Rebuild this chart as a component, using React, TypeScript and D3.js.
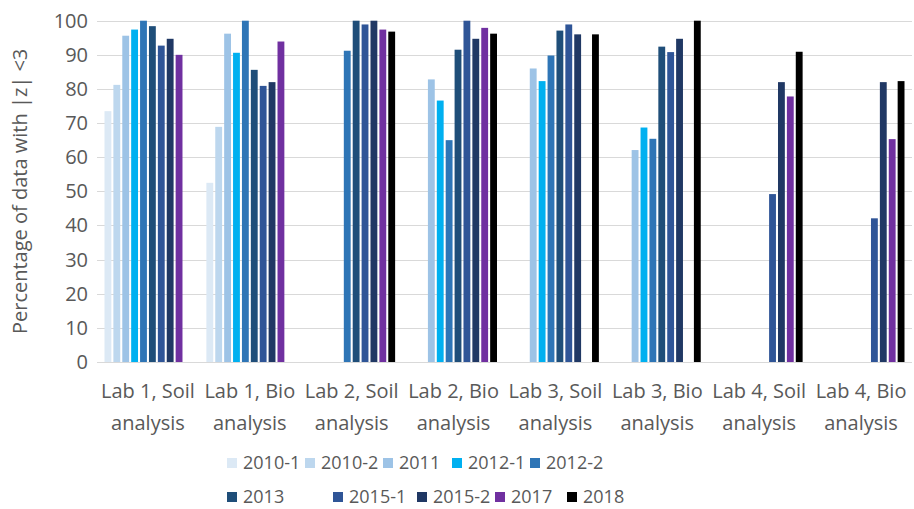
import React, { useEffect, useRef } from 'react';
import { select, scaleBand, scaleLinear, range } from 'd3';

const categories = [
  ['Lab 1, Soil', 'analysis'],
  ['Lab 1, Bio', 'analysis'],
  ['Lab 2, Soil', 'analysis'],
  ['Lab 2, Bio', 'analysis'],
  ['Lab 3, Soil', 'analysis'],
  ['Lab 3, Bio', 'analysis'],
  ['Lab 4, Soil', 'analysis'],
  ['Lab 4, Bio', 'analysis'],
];

const seriesNames = ['2010-1', '2010-2', '2011', '2012-1', '2012-2', '2013', '2015-1', '2015-2', '2017', '2018'];
const seriesColors = ['#dce9f5', '#bdd7ee', '#9dc3e6', '#00b0f0', '#2e75b6', '#1f4e79', '#2f5597', '#203864', '#7030a0', '#000000'];

// one value per category, null = no bar
const v2010_1 = [73.5, 52.5, null, null, null, null, null, null];
const v2010_2 = [81.2, 68.9, null, null, null, null, null, null];
const v2011 = [95.6, 96.2, null, 82.8, 86.0, 62.1, null, null];
const v2012_1 = [97.4, 90.6, null, 76.6, 82.3, 68.7, null, null];
const v2012_2 = [100, 100, 91.2, 65.0, 89.8, 65.4, null, null];
const v2013 = [98.4, 85.6, 100, 91.5, 97.1, 92.4, null, null];
const v2015_1 = [92.7, 80.9, 98.9, 100, 98.9, 90.8, 49.2, 42.1];
const v2015_2 = [94.7, 82.0, 100, 94.7, 96.0, 94.7, 82.0, 82.0];
const v2017 = [90.0, 93.9, 97.4, 97.9, null, null, 77.8, 65.3];
const v2018 = [null, null, 96.8, 96.2, 96.0, 100, 90.9, 82.3];

const seriesValues = [v2010_1, v2010_2, v2011, v2012_1, v2012_2, v2013, v2015_1, v2015_2, v2017, v2018];

const yTicks = range(0, 101, 10);
const yTitle = 'Percentage of data with |z| <3';

// legend layout: two rows, x of each swatch
const legendRows = [
  { y: 463, items: [0, 1, 2, 3, 4], xs: [227, 305, 383, 452, 530] },
  { y: 497, items: [5, 6, 7, 8, 9], xs: [227, 333, 417, 495, 567] },
];

const W = 914;
const H = 509;
const FONT = "'Open Sans', sans-serif";
const TEXT = '#595959';

function Chart() {
  const ref = useRef<SVGSVGElement>(null);

  useEffect(() => {
    const svg = select(ref.current);
    svg.selectAll('*').remove();

    const left = 97;
    const right = 912;
    const x0 = scaleBand<number>()
      .domain(categories.map((_, i) => i))
      .range([left, right]);
    const bw = x0.bandwidth();
    const x1 = scaleBand<number>()
      .domain(seriesNames.map((_, i) => i))
      .range([7.5, bw - 7.5])
      .paddingInner(0.23);
    const y = scaleLinear().domain([0, 100]).range([362, 20.7]);

    // gridlines
    svg.append('g')
      .selectAll('line')
      .data(yTicks)
      .enter()
      .append('line')
      .attr('x1', left)
      .attr('x2', right)
      .attr('y1', (d) => Math.round(y(d)) + 0.5)
      .attr('y2', (d) => Math.round(y(d)) + 0.5)
      .attr('stroke', '#d9d9d9')
      .attr('stroke-width', 1);

    // y tick labels
    svg.append('g')
      .selectAll('text')
      .data(yTicks)
      .enter()
      .append('text')
      .attr('x', left - 9)
      .attr('y', (d) => y(d))
      .attr('dy', '0.35em')
      .attr('text-anchor', 'end')
      .attr('font-family', FONT)
      .attr('font-size', 20)
      .attr('fill', TEXT)
      .text((d) => d);

    // y title
    svg.append('text')
      .attr('transform', `translate(27, ${y(50)}) rotate(-90)`)
      .attr('text-anchor', 'middle')
      .attr('font-family', FONT)
      .attr('font-size', 20)
      .attr('fill', TEXT)
      .text(yTitle);

    // bars
    seriesValues.forEach((vals, s) => {
      svg.append('g')
        .selectAll('rect')
        .data(vals.map((v, c) => ({ v, c })).filter((d) => d.v !== null))
        .enter()
        .append('rect')
        .attr('x', (d) => (x0(d.c) as number) + (x1(s) as number))
        .attr('y', (d) => y(d.v as number))
        .attr('width', x1.bandwidth())
        .attr('height', (d) => y(0) - y(d.v as number))
        .attr('fill', seriesColors[s]);
    });

    // category labels
    const cat = svg.append('g')
      .selectAll('text')
      .data(categories)
      .enter()
      .append('text')
      .attr('font-family', FONT)
      .attr('font-size', 20)
      .attr('fill', TEXT)
      .attr('text-anchor', 'middle');
    cat.append('tspan')
      .attr('x', (_, i) => (x0(i) as number) + bw / 2)
      .attr('y', 398)
      .text((d) => d[0]);
    cat.append('tspan')
      .attr('x', (_, i) => (x0(i) as number) + bw / 2)
      .attr('y', 430)
      .text((d) => d[1]);

    // legend
    legendRows.forEach((row) => {
      const g = svg.append('g');
      row.items.forEach((s, k) => {
        g.append('rect')
          .attr('x', row.xs[k])
          .attr('y', row.y - 5)
          .attr('width', 10)
          .attr('height', 10)
          .attr('fill', seriesColors[s]);
        g.append('text')
          .attr('x', row.xs[k] + 16)
          .attr('y', row.y)
          .attr('dy', '0.35em')
          .attr('font-family', FONT)
          .attr('font-size', 18)
          .attr('fill', TEXT)
          .text(seriesNames[s]);
      });
    });
  }, []);

  return <svg ref={ref} width={W} height={H} style={{ display: 'block', background: '#fff' }} />;
}

export default function App() {
  return (
    <>
      <style>{'body{margin:0}'}</style>
      <Chart />
    </>
  );
}
